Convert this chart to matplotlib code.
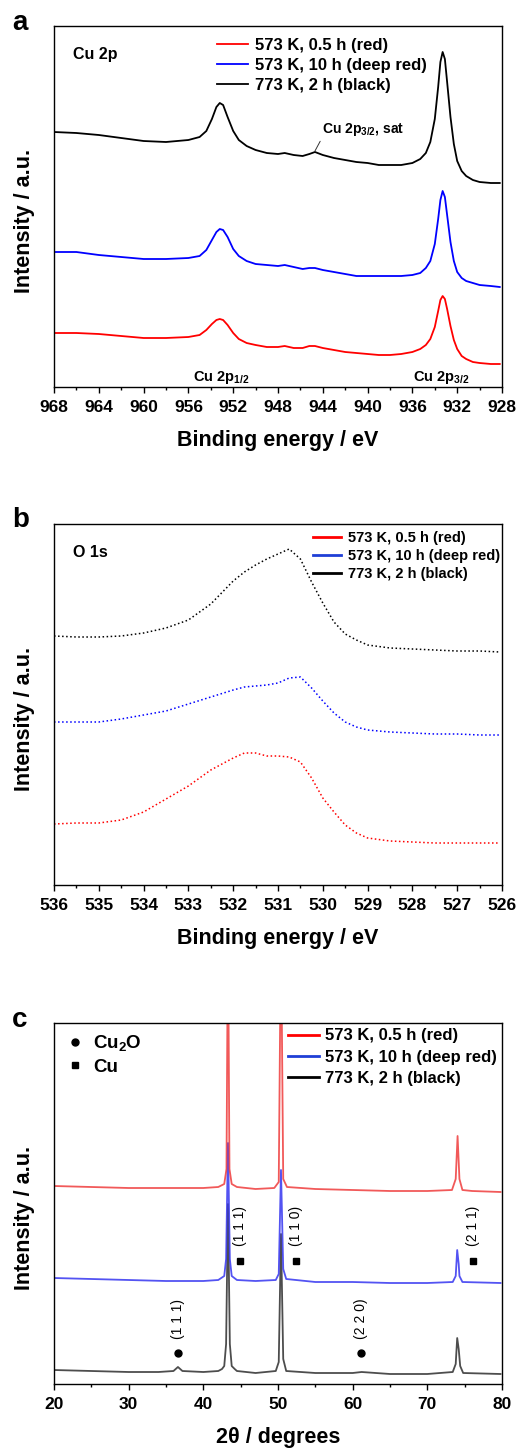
import matplotlib
matplotlib.use("Agg")
import matplotlib.pyplot as plt
from matplotlib.lines import Line2D

plt.rcParams['font.family'] = ['Liberation Sans', 'DejaVu Sans']
plt.rcParams['font.weight'] = 'bold'
plt.rcParams['axes.labelweight'] = 'bold'
plt.rcParams['mathtext.fontset'] = 'custom'
plt.rcParams['mathtext.rm'] = 'Liberation Sans'
plt.rcParams['mathtext.bf'] = 'Liberation Sans:bold'
plt.rcParams['mathtext.it'] = 'Liberation Sans:italic'

labels = ["573 K, 0.5 h (red)", "573 K, 10 h (deep red)", "773 K, 2 h (black)"]

# ---- panel a: Cu 2p XPS (binding energy in eV, intensity in a.u.)
be_a = [968, 966, 964, 962, 960, 958, 956, 955, 954.4, 953.9, 953.5, 953.2, 952.9,
        952.5, 952.0, 951.5, 950.8, 950, 949, 948, 947.4, 946.6, 945.8, 945.2, 944.7,
        944.0, 943, 942, 941, 940, 939, 938, 937, 936, 935.3, 934.8, 934.4, 934.0,
        933.7, 933.5, 933.3, 933.1, 932.9, 932.6, 932.3, 932.0, 931.6, 931.2, 930.6,
        930, 929, 928.2]
cu2p_red = [54, 54, 53, 51, 49, 49, 50, 52, 57, 63, 67, 68, 67, 62, 54, 48, 44, 42, 40,
            40, 41, 39, 39, 41, 41, 39, 37, 35, 34, 33, 32, 32, 33, 35, 38, 42, 48, 60,
            76, 87, 91, 88, 78, 61, 47, 38, 31, 28, 25, 24, 23, 23]
cu2p_blue = [135, 135, 132, 130, 128, 128, 129, 131, 137, 147, 155, 158, 157, 150, 138,
             131, 126, 123, 122, 121, 122, 120, 118, 119, 119, 117, 115, 113, 111, 111,
             111, 111, 111, 112, 114, 119, 126, 143, 168, 187, 196, 190, 172, 145, 126,
             115, 109, 106, 104, 102, 101, 100]
cu2p_black = [255, 254, 252, 249, 246, 245, 247, 250, 256, 268, 280, 284, 282, 270, 256,
              247, 241, 237, 234, 233, 234, 232, 231, 233, 235, 232, 229, 227, 225, 224,
              222, 222, 222, 224, 228, 234, 245, 268, 300, 325, 335, 328, 305, 270, 243,
              226, 216, 211, 207, 205, 204, 204]

# ---- panel b: O 1s XPS
be_b = [536, 535.5, 535, 534.5, 534, 533.5, 533, 532.5, 532, 531.75, 531.5, 531.25, 531,
        530.75, 530.5, 530.25, 530, 529.75, 529.5, 529.25, 529, 528.5, 528, 527.5, 527,
        526.5, 526.05]
o1s_red = [61, 62, 62, 65, 73, 86, 99, 115, 127, 132, 132, 129, 129, 128, 123, 107, 87,
           73, 60, 52, 47, 44, 43, 42, 42, 42, 42]
o1s_blue = [163, 163, 163, 166, 170, 174, 181, 188, 195, 198, 199, 200, 202, 207, 208,
            197, 184, 172, 163, 158, 155, 153, 152, 151, 151, 150, 150]
o1s_black = [249, 248, 248, 249, 252, 257, 265, 281, 304, 313, 320, 326, 331, 336, 326,
             303, 282, 263, 251, 245, 240, 237, 236, 235, 234, 234, 233]

# ---- panel c: XRD (2theta in degrees)
tt_red = [20, 25, 30, 35, 40, 42, 42.8, 43.1, 43.3, 43.5, 43.8, 44.5, 47, 49.5, 50.1,
          50.4, 50.7, 51.2, 55, 60, 65, 70, 73.3, 73.8, 74.05, 74.3, 74.7, 76, 79.8]
xrd_red = [198, 197, 196, 196, 196, 197, 200, 215, 460, 215, 200, 197, 195, 196, 202,
           460, 205, 197, 195, 194, 193, 193, 194, 205, 248, 205, 194, 193, 192]
tt_blue = [20, 25, 30, 35, 40, 42, 42.8, 43.05, 43.3, 43.55, 43.8, 44.5, 47, 49.7, 50.1,
           50.4, 50.7, 51.1, 55, 60, 65, 70, 73.4, 73.8, 74.0, 74.2, 74.3, 74.7, 79.8]
xrd_blue = [106, 105, 104, 103, 103, 104, 108, 125, 241, 125, 108, 104, 103, 104, 110,
            214, 115, 105, 102, 102, 101, 101, 102, 108, 134, 120, 108, 102, 101]
tt_black = [20, 25, 30, 34, 36, 36.6, 37.2, 40, 42, 42.5, 42.8, 43.05, 43.3, 43.55, 43.8,
            44.2, 44.5, 47, 49.7, 50.1, 50.4, 50.7, 51.1, 55, 60, 61.2, 65, 70, 73.4,
            73.8, 74.0, 74.2, 74.4, 74.8, 79.8]
xrd_black = [14, 13, 12, 12, 13, 17, 13, 12, 13, 15, 18, 40, 180, 40, 18, 15, 13, 11, 13,
             22, 150, 25, 13, 11, 11, 12, 10, 10, 12, 20, 46, 35, 18, 11, 10]

cu2o_pos = [36.6, 61.1]
cu2o_hkl = ["(1 1 1)", "(2 2 0)"]
cu_pos = [44.9, 52.4, 76.1]
cu_hkl = ["(1 1 1)", "(1 1 0)", "(2 1 1)"]

W, H = 517, 1453
fig = plt.figure(figsize=(W / 100, H / 100), dpi=100)


def make_axes(top_px, bottom_px):
    return fig.add_axes([54 / W, 1 - bottom_px / H, 448 / W, (bottom_px - top_px) / H])


def style(ax):
    ax.set_yticks([])
    ax.tick_params(axis='x', which='major', direction='out', length=4.5, width=1,
                   labelsize=12.5, pad=5)
    ax.tick_params(axis='x', which='minor', direction='out', length=2.5, width=1)
    for s in ax.spines.values():
        s.set_linewidth(1)
    ax.set_ylim(0, 361)
    ax.set_ylabel("Intensity / a.u.", fontsize=15.5)
    ax.yaxis.set_label_coords(-0.042, 0.461)


# panel a
ax1 = make_axes(26, 387)
ax1.plot(be_a, cu2p_red, color='red', lw=1.3, label=labels[0])
ax1.plot(be_a, cu2p_blue, color='blue', lw=1.3, label=labels[1])
ax1.plot(be_a, cu2p_black, color='black', lw=1.3, label=labels[2])
ax1.set_xlim(968, 928)
ax1.set_xticks(range(968, 927, -4))
ax1.set_xticks(range(966, 928, -4), minor=True)
style(ax1)
ax1.set_xlabel("Binding energy / eV", fontsize=15.5, labelpad=11)
ax1.legend(loc='upper left', bbox_to_anchor=(0.364, 0.966), frameon=False, fontsize=12,
           borderpad=0, borderaxespad=0, labelspacing=0.3, handlelength=1.85,
           handletextpad=0.4)
ax1.text(0.042, 0.922, "Cu 2p", transform=ax1.transAxes, fontsize=11.5, va='center')
ax1.text(953.1, 10, r"Cu 2p$_{\mathbf{1/2}}$", fontsize=10.5, ha='center', va='center')
ax1.text(933.4, 10, r"Cu 2p$_{\mathbf{3/2}}$", fontsize=10.5, ha='center', va='center')
ax1.annotate(r"Cu 2p$_{\mathbf{3/2}}$, sat", xy=(944.7, 236), xytext=(944.1, 257),
             fontsize=10, ha='left', va='center',
             arrowprops=dict(arrowstyle='-', lw=0.7, color='#333333', relpos=(0, 0),
                             shrinkA=0, shrinkB=0))

# panel b
ax2 = make_axes(524, 885)
ax2.plot(be_b, o1s_red, color='red', lw=1.1, ls=':')
ax2.plot(be_b, o1s_blue, color='blue', lw=1.1, ls=':')
ax2.plot(be_b, o1s_black, color='black', lw=1.1, ls=':')
ax2.set_xlim(536, 526)
ax2.set_xticks(range(536, 525, -1))
ax2.set_xticks([535.5 - i for i in range(10)], minor=True)
style(ax2)
ax2.set_xlabel("Binding energy / eV", fontsize=15.5, labelpad=11)
h2 = [Line2D([], [], color=c, lw=2) for c in ['red', '#1f3fd6', 'black']]
ax2.legend(h2, labels, loc='upper left', bbox_to_anchor=(0.578, 0.980), frameon=False,
           fontsize=10.5, borderpad=0, borderaxespad=0, labelspacing=0.27,
           handlelength=1.95, handletextpad=0.45)
ax2.text(0.042, 0.922, "O 1s", transform=ax2.transAxes, fontsize=11.5, va='center')

# panel c
ax3 = make_axes(1023, 1384)
ax3.plot(tt_black, xrd_black, color='#3a3a3a', lw=1.3, alpha=0.9)
ax3.plot(tt_blue, xrd_blue, color='#3535f0', lw=1.3, alpha=0.85)
ax3.plot(tt_red, xrd_red, color='#ee3030', lw=1.3, alpha=0.8)
ax3.set_xlim(20, 80)
ax3.set_xticks(range(20, 81, 10))
ax3.set_xticks(range(25, 80, 10), minor=True)
style(ax3)
ax3.set_xlabel("2θ / degrees", fontsize=15.5, labelpad=11)
h3 = [Line2D([], [], color=c, lw=2) for c in ['red', '#1f3fd6', 'black']]
leg = ax3.legend(h3, labels, loc='upper left', bbox_to_anchor=(0.522, 0.985),
                 frameon=False, fontsize=12, borderpad=0, borderaxespad=0,
                 labelspacing=0.38, handlelength=1.85, handletextpad=0.4)
ax3.add_artist(leg)
hp = [Line2D([], [], color='black', marker='o', ls='none', ms=5),
      Line2D([], [], color='black', marker='s', ls='none', ms=5)]
ax3.legend(hp, [r"Cu$_{\mathbf{2}}$O", "Cu"], loc='upper left',
           bbox_to_anchor=(0.025, 0.972), frameon=False, fontsize=13.5, borderpad=0,
           borderaxespad=0, labelspacing=0.3, handlelength=1.0, handletextpad=0.5)
for p, t in zip(cu2o_pos, cu2o_hkl):
    ax3.plot([p], [31], marker='o', color='black', ms=5)
    ax3.text(p, 65, t, rotation=90, ha='center', va='center', fontsize=10,
             fontweight='normal')
for p, t in zip(cu_pos, cu_hkl):
    ax3.plot([p], [123], marker='s', color='black', ms=5)
    ax3.text(p, 158, t, rotation=90, ha='center', va='center', fontsize=10,
             fontweight='normal')

# panel letters
for letter, base in [('a', 30), ('b', 527), ('c', 1027)]:
    fig.text(12 / W, 1 - base / H, letter, fontsize=20, va='baseline', ha='left')

fig.savefig("out.png", dpi=100)
